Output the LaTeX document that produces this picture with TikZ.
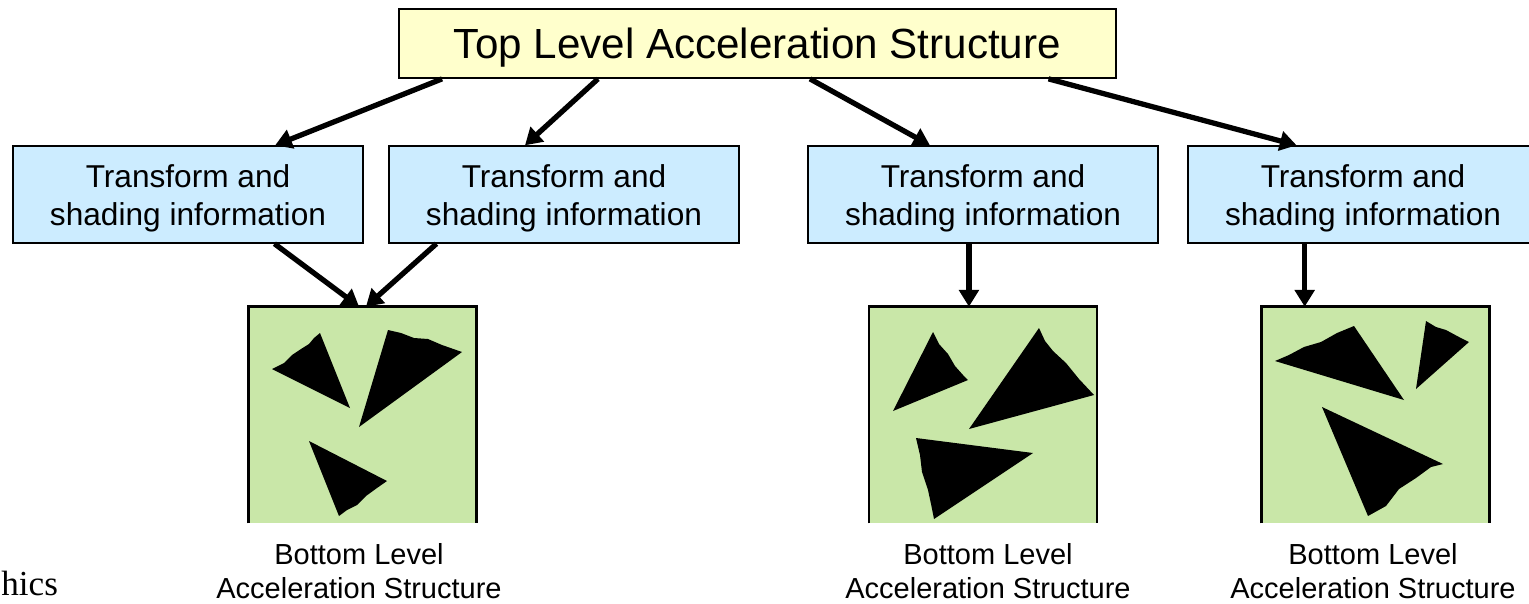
\documentclass[tikz,border=0pt]{standalone}
\usepackage{fontspec}
\setmainfont{Liberation Sans}
\newfontfamily\timesfont{Liberation Serif}
\usetikzlibrary{arrows.meta,calc}

\definecolor{tlasyellow}{RGB}{255,255,204}
\definecolor{infoblue}{RGB}{204,236,255}
\definecolor{blasgreen}{RGB}{201,231,168}

\begin{document}
\begin{tikzpicture}[x=0.02cm,y=-0.02cm,>={Triangle[length=9.5pt,width=11pt]}]
	\tikzstyle{tlasbox}=[draw,line width=1pt,fill=tlasyellow,minimum width=14.34cm,minimum height=1.38cm,inner sep=0pt,text height=22pt,text depth=5pt,font=\fontsize{24pt}{28pt}\selectfont]
	\tikzstyle{infobox}=[draw,line width=0.8pt,fill=infoblue,minimum width=7cm,minimum height=1.94cm,inner sep=0pt,align=center,text height=39pt,text depth=4pt,font=\fontsize{18pt}{21.6pt}\selectfont]
	\tikzstyle{blasbox}=[fill=blasgreen,minimum width=4.54cm,minimum height=4.32cm,inner sep=0pt]
	\tikzstyle{blasedge}=[line width=1.4pt]
	\tikzstyle{blaslabel}=[align=center,inner sep=0pt,font=\fontsize{16.5pt}{19pt}\selectfont]
	\tikzstyle{link}=[->,line width=3pt]

	\useasboundingbox (0,0) rectangle (1529,603);
	\clip (0,0) rectangle (1529,603);

	\node (tlas) [tlasbox] at (757.5,43.5) {Top Level Acceleration Structure};

	\node (tsi1) [infobox] at (188,194.5) {Transform and\\shading information};
	\node (tsi2) [infobox] at (564,194.5) {Transform and\\shading information};
	\node (tsi3) [infobox] at (983,194.5) {Transform and\\shading information};
	\node (tsi4) [infobox] at (1363,194.5) {Transform and\\shading information};

	\node (blas1) [blasbox] at (362.5,415) {};
	\node (blas2) [blasbox] at (983,415) {};
	\node (blas3) [blasbox] at (1375.5,415) {};
	\foreach \b in {blas1,blas2,blas3}
		\draw [blasedge] (\b.south west) -- (\b.north west) -- (\b.north east) -- (\b.south east);

	% top level to the instance boxes
	\draw [link] ($(tlas.south west)!0.061!(tlas.south east)$) -- ($(tsi1.north west)!0.748!(tsi1.north east)$);
	\draw [link] ($(tlas.south west)!0.278!(tlas.south east)$) -- ($(tsi2.north west)!0.389!(tsi2.north east)$);
	\draw [link] ($(tlas.south west)!0.573!(tlas.south east)$) -- ($(tsi3.north west)!0.349!(tsi3.north east)$);
	\draw [link] ($(tlas.south west)!0.905!(tlas.south east)$) -- ($(tsi4.north west)!0.311!(tsi4.north east)$);

	% instances to the bottom level structures
	\draw [link] ($(tsi1.south west)!0.746!(tsi1.south east)$) -- ($(blas1.north west)!0.485!(blas1.north east)$);
	\draw [link] ($(tsi2.south west)!0.137!(tsi2.south east)$) -- ($(blas1.north west)!0.515!(blas1.north east)$);
	\draw [link] ($(tsi3.south west)!0.46!(tsi3.south east)$) coordinate (s3) -- (s3 |- blas2.north);
	\draw [link] ($(tsi4.south west)!0.334!(tsi4.south east)$) coordinate (s4) -- (s4 |- blas3.north);

	% triangles
	\fill (272,369) -- (284,363) -- (292,355) -- (301,349) -- (309,344) -- (314,338) -- (320,333) -- (350,408) -- cycle;
	\fill (388,330) -- (401,333) -- (414,338) -- (428,339) -- (442,345) -- (462,352) -- (359,427) -- cycle;
	\fill (309,441) -- (387,481) -- (377,488) -- (366,496) -- (357,505) -- (347,510) -- (339,516) -- cycle;

	\fill (933,332) -- (939,344) -- (948,354) -- (955,366) -- (963,375) -- (968,380) -- (893,411) -- cycle;
	\fill (1039,328) -- (1045,341) -- (1053,351) -- (1066,363) -- (1079,379) -- (1094,395) -- (969,429) -- cycle;
	\fill (916,438) -- (1033,453) -- (934,519) -- (931,504) -- (928,490) -- (922,472) -- (920,455) -- cycle;

	\fill (1275,361) -- (1289,355) -- (1304,347) -- (1321,342) -- (1337,333) -- (1354,326) -- (1404,400) -- cycle;
	\fill (1426,321) -- (1436,327) -- (1446,330) -- (1459,337) -- (1469,342) -- (1416,389) -- cycle;
	\fill (1322,407) -- (1443,464) -- (1431,467) -- (1416,478) -- (1399,489) -- (1386,506) -- (1368,516) -- cycle;

	\node (lbl1) [blaslabel] at (359,571) {Bottom Level\\Acceleration Structure};
	\node (lbl2) [blaslabel] at (988,571) {Bottom Level\\Acceleration Structure};
	\node (lbl3) [blaslabel] at (1373,571) {Bottom Level\\Acceleration Structure};

	\node (foot) [anchor=base west,inner sep=0pt,font=\timesfont\fontsize{20pt}{24pt}\selectfont] at (1,595) {hics};
\end{tikzpicture}
\end{document}
